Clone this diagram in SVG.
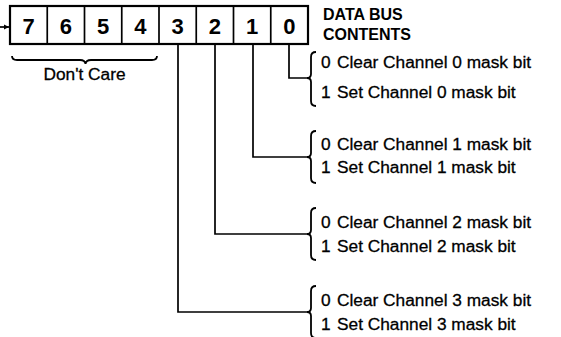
<svg xmlns="http://www.w3.org/2000/svg" width="561" height="337" viewBox="0 0 561 337">
<defs>
<style>
.box{fill:#fff;stroke:#000;stroke-width:2.2}
.dig{font-family:"Liberation Sans",Arial,sans-serif;font-weight:bold;font-size:22px;text-anchor:middle;fill:#000}
.t{font-family:"Liberation Sans",Arial,sans-serif;font-size:17.3px;fill:#000;stroke:#000;stroke-width:0.3}
.hd{font-family:"Liberation Sans",Arial,sans-serif;font-weight:bold;font-size:16px;fill:#000}
.ln{fill:none;stroke:#000;stroke-width:1.7}
.br{fill:none;stroke:#000;stroke-width:1.8}
</style>
<marker id="ah" markerWidth="6" markerHeight="6" refX="5" refY="3" orient="auto" markerUnits="userSpaceOnUse">
<path d="M0,0.5 L5,3 L0,5.5 Z" fill="#000"/>
</marker>
</defs>
<rect width="561" height="337" fill="#fff"/>
<g id="register">
<rect class="box" x="10" y="6" width="298" height="38"/>
<path class="ln" d="M47.25 6V44M84.5 6V44M121.75 6V44M159 6V44M196.25 6V44M233.5 6V44M270.75 6V44" stroke-width="2.2"/>
<text class="dig" x="28.6" y="33.5">7</text>
<text class="dig" x="65.9" y="33.5">6</text>
<text class="dig" x="103.1" y="33.5">5</text>
<text class="dig" x="140.4" y="33.5">4</text>
<text class="dig" x="177.6" y="33.5">3</text>
<text class="dig" x="214.9" y="33.5">2</text>
<text class="dig" x="252.1" y="33.5">1</text>
<text class="dig" x="289.4" y="33.5">0</text>
</g>
<g id="header">
<text class="hd" x="323" y="20">DATA BUS</text>
<text class="hd" x="323" y="40">CONTENTS</text>
</g>
<g id="dontcare">
<path class="br" d="M12 56 Q12 60 17 60 L80 60 Q85 60 85.5 64 Q86 60 91 60 L152 60 Q157 60 157 56"/>
<text class="t" x="84.5" y="80" text-anchor="middle" font-size="16">Don't Care</text>
</g>
<g id="connectors">
<path class="ln" d="M0 27H9" marker-end="url(#ah)"/>
<path class="ln" d="M289 44V78H307"/>
<path class="ln" d="M253 44V157H307"/>
<path class="ln" d="M215 44V234H307"/>
<path class="ln" d="M178 44V312H307"/>
</g>
<g id="bit0">
<path class="br" d="M316 52Q311 52 311 57L311 74Q311 78 307 78Q311 78 311 82L311 101Q311 106 316 106"/>
<text class="t" x="321" y="68">0</text><text class="t" x="337" y="68">Clear Channel 0 mask bit</text>
<text class="t" x="321" y="98">1</text><text class="t" x="337" y="98">Set Channel 0 mask bit</text>
</g>
<g id="bit1">
<path class="br" d="M316 131Q311 131 311 136L311 153Q311 157 307 157Q311 157 311 161L311 178Q311 183 316 183"/>
<text class="t" x="321" y="150">0</text><text class="t" x="337" y="150">Clear Channel 1 mask bit</text>
<text class="t" x="321" y="173">1</text><text class="t" x="337" y="173">Set Channel 1 mask bit</text>
</g>
<g id="bit2">
<path class="br" d="M316 208Q311 208 311 213L311 230Q311 234 307 234Q311 234 311 238L311 255Q311 260 316 260"/>
<text class="t" x="321" y="228">0</text><text class="t" x="337" y="228">Clear Channel 2 mask bit</text>
<text class="t" x="321" y="252">1</text><text class="t" x="337" y="252">Set Channel 2 mask bit</text>
</g>
<g id="bit3">
<path class="br" d="M316 286Q311 286 311 291L311 308Q311 312 307 312Q311 312 311 316L311 333Q311 338 316 338"/>
<text class="t" x="321" y="306">0</text><text class="t" x="337" y="306">Clear Channel 3 mask bit</text>
<text class="t" x="321" y="330">1</text><text class="t" x="337" y="330">Set Channel 3 mask bit</text>
</g>
</svg>
